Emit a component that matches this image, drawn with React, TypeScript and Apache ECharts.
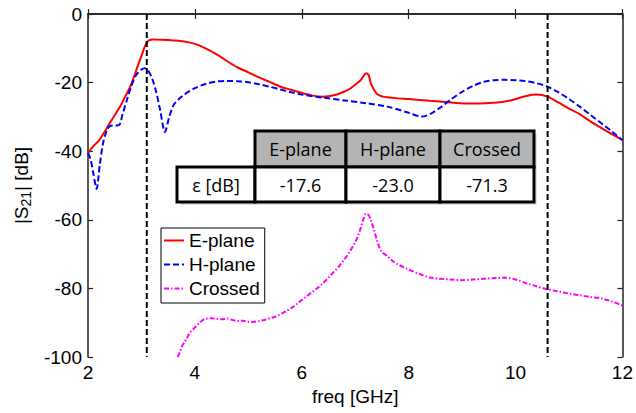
import React, { useEffect, useRef } from "react";
import * as echarts from "echarts";

const ePlaneFreq = [2.0, 2.1, 2.2, 2.3, 2.4, 2.5, 2.6, 2.7, 2.8, 2.9, 3.0, 3.1, 3.2, 3.4, 3.6, 3.8, 4.0, 4.2, 4.4, 4.6, 4.8, 5.0, 5.2, 5.4, 5.6, 5.8, 6.0, 6.2, 6.4, 6.6, 6.8, 6.9, 7.0, 7.1, 7.15, 7.2, 7.25, 7.3, 7.4, 7.5, 7.6, 7.8, 8.0, 8.4, 8.8, 9.2, 9.6, 9.9, 10.2, 10.4, 10.6, 10.8, 11.0, 11.2, 11.4, 11.6, 11.8, 12.0];
const ePlaneS21 = [-40.5, -38.5, -37.0, -34.6, -32.0, -29.5, -27.0, -24.0, -20.8, -16.5, -12.2, -8.3, -7.4, -7.5, -7.7, -8.0, -8.7, -10.0, -11.7, -13.7, -15.6, -17.0, -18.5, -19.8, -21.2, -22.1, -23.0, -23.8, -24.1, -23.7, -22.6, -21.8, -20.6, -19.3, -18.2, -17.3, -17.8, -20.5, -23.2, -24.0, -24.3, -24.6, -24.8, -25.3, -25.8, -26.1, -25.9, -25.2, -23.9, -23.5, -24.1, -25.8, -27.6, -29.2, -31.3, -33.2, -35.0, -36.7];

const hPlaneFreq = [2.0, 2.05, 2.1, 2.16, 2.22, 2.28, 2.35, 2.42, 2.5, 2.58, 2.65, 2.72, 2.8, 2.9, 3.0, 3.06, 3.12, 3.2, 3.28, 3.35, 3.44, 3.52, 3.6, 3.7, 3.8, 4.0, 4.2, 4.4, 4.6, 4.8, 5.0, 5.2, 5.4, 5.6, 5.8, 6.0, 6.4, 6.8, 7.2, 7.6, 8.0, 8.24, 8.4, 8.6, 8.8, 9.0, 9.2, 9.4, 9.6, 9.8, 10.0, 10.2, 10.4, 10.6, 10.8, 11.0, 11.2, 11.4, 11.6, 11.8, 12.0];
const hPlaneS21 = [-40.5, -42.5, -46.5, -51.0, -44.0, -37.8, -34.0, -32.6, -32.5, -32.4, -29.0, -25.5, -21.5, -17.8, -16.2, -15.8, -16.4, -18.8, -23.0, -28.0, -34.4, -30.0, -26.6, -24.8, -23.5, -21.6, -20.4, -19.7, -19.5, -19.6, -19.9, -20.5, -21.2, -22.0, -22.8, -23.5, -24.4, -25.2, -26.0, -27.0, -28.8, -29.9, -29.2, -27.2, -24.8, -22.7, -21.0, -19.8, -19.3, -19.2, -19.3, -19.6, -20.2, -21.2, -22.8, -24.8, -27.0, -29.4, -31.8, -34.2, -36.8];

const crossedFreq = [3.68, 3.72, 3.76, 3.8, 3.85, 3.9, 3.95, 4.0, 4.05, 4.1, 4.15, 4.2, 4.3, 4.4, 4.5, 4.6, 4.7, 4.8, 4.9, 5.0, 5.1, 5.2, 5.3, 5.4, 5.5, 5.6, 5.7, 5.8, 5.9, 6.0, 6.1, 6.2, 6.3, 6.4, 6.5, 6.6, 6.7, 6.8, 6.9, 7.0, 7.05, 7.1, 7.15, 7.2, 7.25, 7.3, 7.35, 7.4, 7.45, 7.5, 7.6, 7.7, 7.8, 7.9, 8.0, 8.2, 8.4, 8.6, 8.8, 9.0, 9.2, 9.4, 9.6, 9.8, 10.0, 10.2, 10.4, 10.6, 10.8, 11.0, 11.2, 11.4, 11.6, 11.8, 12.0];
const crossedS21 = [-100, -98.5, -96.8, -95.8, -94.5, -93.0, -92.2, -91.4, -90.6, -89.9, -89.2, -88.9, -88.7, -88.9, -89.0, -88.8, -89.2, -89.5, -89.4, -89.8, -89.7, -89.5, -89.2, -88.7, -88.3, -87.5, -86.7, -85.8, -84.6, -83.4, -82.2, -81.0, -79.8, -78.4, -76.9, -75.2, -73.5, -71.5, -69.2, -66.5, -64.8, -62.5, -60.0, -58.2, -58.6, -60.5, -62.8, -65.6, -68.0, -69.4, -70.6, -72.0, -73.0, -73.8, -74.5, -75.8, -76.8, -77.2, -77.4, -77.6, -77.4, -77.2, -77.0, -76.9, -77.4, -78.5, -79.4, -80.3, -80.9, -81.5, -82.0, -82.5, -82.9, -83.8, -85.0];

const bandEdges = [3.1, 10.6];

const tableRowLabel = "ε [dB]";
const tableHeaders = ["E-plane", "H-plane", "Crossed"];
const tableValues = ["-17.6", "-23.0", "-71.3"];

const zip = (xs: number[], ys: number[]) => xs.map((x, i) => [x, ys[i]]);

export default function App() {
  const ref = useRef<HTMLDivElement>(null);
  useEffect(() => {
    if (!ref.current) return;
    const chart = echarts.init(ref.current, null, { renderer: "svg" });
    const font = "'Liberation Sans', Arial, sans-serif";
    const tfont = "'Open Sans', 'Noto Sans', sans-serif";
    const fs = 19;

    const colEdges = [177, 255, 346, 440, 534];
    const rowEdges = [131, 167, 202];
    const graphic: any[] = [];
    graphic.push({
      type: "rect", z: 99,
      shape: { x: colEdges[0] + 3, y: rowEdges[1] + 3, width: colEdges[4] - colEdges[0], height: rowEdges[2] - rowEdges[1] },
      style: { fill: "#e4e4e4" },
    });
    graphic.push({
      type: "rect", z: 99,
      shape: { x: colEdges[1] + 3, y: rowEdges[0] + 3, width: colEdges[4] - colEdges[1], height: rowEdges[1] - rowEdges[0] },
      style: { fill: "#e4e4e4" },
    });
    tableHeaders.forEach((h, i) => {
      const x0 = colEdges[i + 1], x1 = colEdges[i + 2];
      graphic.push({
        type: "rect", z: 100,
        shape: { x: x0, y: rowEdges[0], width: x1 - x0, height: rowEdges[1] - rowEdges[0] },
        style: { fill: "#b4b4b4", stroke: "#000", lineWidth: 3 },
      });
      graphic.push({
        type: "text", z: 101, x: (x0 + x1) / 2, y: (rowEdges[0] + rowEdges[1]) / 2,
        style: { text: h, fontSize: 18, fontFamily: tfont, fill: "#000", align: "center", verticalAlign: "middle" },
      });
    });
    const row2 = [tableRowLabel, ...tableValues];
    row2.forEach((t, i) => {
      const x0 = colEdges[i], x1 = colEdges[i + 1];
      graphic.push({
        type: "rect", z: 100,
        shape: { x: x0, y: rowEdges[1], width: x1 - x0, height: rowEdges[2] - rowEdges[1] },
        style: { fill: "#fff", stroke: "#000", lineWidth: 3 },
      });
      graphic.push({
        type: "text", z: 101, x: (x0 + x1) / 2, y: (rowEdges[1] + rowEdges[2]) / 2,
        style: { text: t, fontSize: 18, fontFamily: tfont, fill: "#000", align: "center", verticalAlign: "middle" },
      });
    });

    const axisCommon = {
      type: "value",
      axisLine: { show: true, lineStyle: { color: "#222", width: 1.5 } },
      axisTick: { show: true, inside: true, length: 5, lineStyle: { color: "#222", width: 1.2 } },
      splitLine: { show: false },
    };

    chart.setOption({
      animation: false,
      backgroundColor: "#fff",
      grid: { left: 88, right: 11, top: 14, bottom: 56, containLabel: false },
      xAxis: [
        {
          ...axisCommon, min: 2, max: 12, interval: 2, position: "bottom",
          axisLabel: { fontSize: fs, color: "#000", fontFamily: font, margin: 6 },
          name: "freq [GHz]", nameLocation: "middle", nameGap: 30,
          nameTextStyle: { fontSize: fs, color: "#000", fontFamily: font },
        },
        { ...axisCommon, min: 2, max: 12, interval: 2, position: "top", axisLabel: { show: false } },
      ],
      yAxis: [
        {
          ...axisCommon, min: -100, max: 0, interval: 20, position: "left",
          axisLabel: { fontSize: fs, color: "#000", fontFamily: font, margin: 6 },
          name: "|S{sub|21}| [dB]", nameLocation: "middle", nameGap: 52,
          nameTextStyle: {
            fontSize: fs, color: "#000", fontFamily: font,
            rich: { sub: { fontSize: 14, color: "#000", fontFamily: font, verticalAlign: "bottom", padding: [9, 0, 0, 0] } },
          },
        },
        { ...axisCommon, min: -100, max: 0, interval: 20, position: "right", axisLabel: { show: false } },
      ],
      legend: {
        orient: "vertical", left: 161, top: 228,
        data: ["E-plane", "H-plane", "Crossed"],
        backgroundColor: "#fff", borderColor: "#000", borderWidth: 1,
        padding: [3, 5, 5, 2], itemWidth: 20, itemHeight: 14, itemGap: 5,
        itemStyle: { opacity: 0 },
        textStyle: { fontSize: fs, color: "#000", fontFamily: font },
        z: 50,
      },
      graphic,
      series: [
        {
          name: "E-plane", type: "line", data: zip(ePlaneFreq, ePlaneS21), symbol: "none", smooth: 0.3,
          lineStyle: { color: "#ff0000", width: 2 }, itemStyle: { color: "#ff0000" },
        },
        {
          name: "H-plane", type: "line", data: zip(hPlaneFreq, hPlaneS21), symbol: "none", smooth: 0.3,
          lineStyle: { color: "#0000ff", width: 2, type: [6, 3] }, itemStyle: { color: "#0000ff" },
        },
        {
          name: "Crossed", type: "line", data: zip(crossedFreq, crossedS21), symbol: "none", smooth: 0.3,
          lineStyle: { color: "#ff00ff", width: 2, type: [5, 2, 1.5, 2] }, itemStyle: { color: "#ff00ff" },
        },
        ...bandEdges.map((f, i) => ({
          name: "edge" + i, type: "line", data: [[f, 0], [f, -100]], symbol: "none",
          lineStyle: { color: "#000", width: 2, type: [6, 3] }, z: 3,
        })),
      ],
    });
    return () => chart.dispose();
  }, []);
  return <div ref={ref} style={{ position: "fixed", left: 0, top: 0, width: 636, height: 413 }} />;
}
